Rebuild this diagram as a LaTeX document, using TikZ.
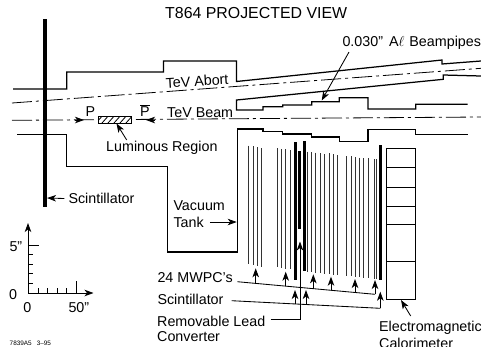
\documentclass[tikz,border=0pt]{standalone}
\usepackage{fontspec}
\setmainfont[Ligatures=ResetAll]{Liberation Sans}
\usetikzlibrary{arrows.meta}
\tikzset{
  lab/.style={inner sep=0pt,anchor=west,font=\fontsize{14.3}{15}\selectfont},
  tank/.style={line width=1.25pt,line join=miter},
  beam/.style={line width=0.8pt,dash pattern=on 20pt off 4pt on 3pt off 4pt},
  pointer/.style={line width=0.85pt,-{Stealth[length=9pt,width=6.5pt,inset=2.5pt]}},
  thinline/.style={line width=0.85pt},
  strip/.style={line width=0.95pt,black!80},
  thick bar/.style={line width=3pt},
}
\begin{document}
\begin{tikzpicture}[x=1pt,y=-1pt]
\useasboundingbox (0,0) rectangle (481,346);
\clip (0,0) rectangle (481,346);
% title
\node[lab,font=\fontsize{15.9}{16}\selectfont] (title) at (165,13) {T864 PROJECTED VIEW};
% scintillator bar
\draw[line width=3.8pt] (45,19) -- (45,207);
% vacuum tank
\draw[tank] (13,89) -- (66.8,89) -- (66.8,72) -- (163.5,72) -- (163.5,61) -- (236.5,61) -- (236.5,81.5) -- (442,60) -- (442,64) -- (481,61);
\draw[tank] (17,134.5) -- (66.3,134.5) -- (66.3,166.7) -- (167.3,166.7) -- (167.3,252) -- (237.3,252) -- (237.3,129) -- (263,129) -- (263,131.7) -- (282.7,131.7) -- (282.7,134) -- (311.7,134) -- (311.7,137) -- (339.3,137) -- (339.3,141.3) -- (368,141.3) -- (368,129.3) -- (415.7,129.3) -- (415.7,134.3) -- (467.7,134.3);
\draw[tank] (481,76) -- (443.3,75) -- (443.3,79.3) -- (236.5,100) -- (236.5,110) -- (263,110) -- (263,106.7) -- (282.7,106.7) -- (282.7,105) -- (311.7,105) -- (311.7,101.7) -- (339.3,101.7) -- (339.3,97.7) -- (368,97.7) -- (368,109) -- (415.7,109) -- (415.7,104.3) -- (467.7,104.3);
% beam lines
\draw[beam] (12,103) -- (481,68.3);
\draw[beam] (12,120.3) -- (481,117);
% labels on beams
\node[lab,rotate=3.5] (abort) at (165.5,83) {TeV Abort};
\node[lab] (tevbeam) at (167,112.5) {TeV Beam};
\node[lab,anchor=center] (p) at (90.3,112) {P};
\node[lab,anchor=center] (pbar) at (145,110.5) {$\overline{\mbox{P}}$};
% P arrows
\coordinate (pt) at (75,120);
\coordinate (ph) at (84,120);
\coordinate (qt) at (155,120);
\coordinate (qh) at (146,120);
\draw[pointer] (pt) -- (ph);
\draw[pointer] (qt) -- (qh);
% luminous region
\node[draw,line width=0.8pt,fill=white,minimum width=32.6pt,minimum height=6.7pt,inner sep=0pt] (lumi) at (115,119.7) {};
\begin{scope}
\clip (98.7,116.3) rectangle (131.3,123);
\foreach \x in {96,102,108,114,120,126,132} \draw[line width=0.8pt] (\x,123) -- (\x+6,116.3);
\end{scope}
\node[lab] (lumilab) at (106,148) {Luminous Region};
\coordinate (lumitail) at (126.7,140);
\coordinate (lumitip) at (116.5,123.5);
\draw[pointer] (lumitail) -- (lumitip);
% scintillator label
\node[lab] (scint) at (68.3,198.5) {Scintillator};
\coordinate (scinttip) at (47,198);
\draw[pointer] (scint.west)++(-4,0) -- (scinttip);
% beampipes
\node[lab] (pipes) at (342.3,43) {0.030"\hspace{2pt} A$\ell$\hspace{1pt} Beampipes};
\coordinate (pipetail) at (349,52);
\coordinate (pipetip) at (321.7,100.5);
\draw[pointer] (pipetail) -- (pipetip);
% vacuum tank label
\node[lab] (vac) at (173.3,205.5) {Vacuum};
\node[lab] (tanklab) at (173.3,222) {Tank};
\coordinate (tanktip) at (236.7,222);
\draw[pointer] (tanklab.east)++(6,0) -- (tanktip);
% scale
\coordinate (o) at (28,293);
\coordinate (ytip) at (28,223);
\coordinate (xtip) at (93.5,293);
\draw[pointer] (o) -- (ytip);
\draw[pointer] (o) -- (xtip);
\draw[thinline] (28,245.7) -- (39.3,245.7);
\foreach \y in {254.7,264,273.7,283} \draw[thinline] (28,\y) -- (33,\y);
\foreach \x in {38.3,47.7,57.3,66.7} \draw[thinline] (\x,293) -- (\x,288);
\draw[thinline] (76.3,293) -- (76.3,280.7);
\node[lab] (five) at (9.3,247) {5"};
\node[lab,anchor=center] (zeroy) at (13,294.5) {0};
\node[lab,anchor=center] (zerox) at (27.3,308) {0};
\node[lab] (fifty) at (68.3,308) {50"};
\node[lab,font=\fontsize{6.4}{7}\selectfont] (code) at (9.5,343) {7839A5\hspace{5pt}3–95};
% chambers
\foreach \x/\t/\b in {
 248.3/47/403, 253/48/405, 257/51/408, 261/54/410,
 277/55/412, 281.3/57/414, 285.7/58/416, 290/60/418,
 307.3/65/425, 311.3/67/427, 315.7/68/429, 320/70/430,
 324.3/72/432, 329/70/433, 333.3/73/434, 337.7/76/435,
 346.7/79/438, 351/79/439, 355.3/81/440, 359.7/83/441,
 363.7/84/443, 368/85/444, 374.7/87/446, 376.3/88/447}
 \draw[strip] (\x,130+\t/3) -- (\x,130+\b/3);
\draw[thick bar] (295,142) -- (295,280);
\draw[thick bar] (299.7,151) -- (299.7,229.3);
\draw[thick bar] (304.3,141.3) -- (304.3,271);
\draw[thick bar] (380,145) -- (380,280);
% calorimeter
\draw[line width=1pt] (386.7,148.3) rectangle (415.3,299.3);
\foreach \y in {167.7,187.3,206,224.3,261} \draw[line width=1pt] (386.7,\y) -- (415.3,\y);
\node[lab] (em) at (379,327.6) {Electromagnetic};
\node[lab] (cal) at (379,343.5) {Calorimeter};
\coordinate (caltail) at (410.7,316);
\coordinate (caltip) at (401,300);
\draw[pointer] (caltail) -- (caltip);
% MWPC leader
\node[lab] (mwpc) at (157.3,278) {24 MWPC's};
\coordinate (m0) at (237.3,281.7);
\coordinate (m1) at (375,294.3);
\coordinate (m1t) at (375,280);
\draw[thinline] (m0) -- (m1);
\draw[pointer] (m1) -- (m1t);
\foreach \x/\b/\t in {255.7/283.4/268.3, 285.7/286.1/271.7, 313.3/288.7/274.3, 331/290.3/276.7, 355/292.5/279}
  \draw[pointer] (\x,\b) -- (\x,\t);
% scintillator leader
\node[lab] (scint2) at (157.3,299.7) {Scintillator};
\coordinate (s0) at (231.7,300.7);
\coordinate (s1) at (380.3,308.3);
\coordinate (s1t) at (380.3,291.7);
\draw[thinline] (s0) -- (s1);
\draw[pointer] (s1) -- (s1t);
\foreach \x/\b in {295/304,306/304.5}
  \draw[pointer] (\x,\b) -- (\x,290);
% lead leader
\node[lab] (lead) at (157,321.3) {Removable Lead};
\node[lab] (conv) at (157,336.3) {Converter};
\coordinate (l0) at (270.7,319.5);
\coordinate (l1) at (300,319.5);
\coordinate (l2) at (300,241.5);
\draw[pointer] (l0) -- (l1) -- (l2);
\end{tikzpicture}
\end{document}
